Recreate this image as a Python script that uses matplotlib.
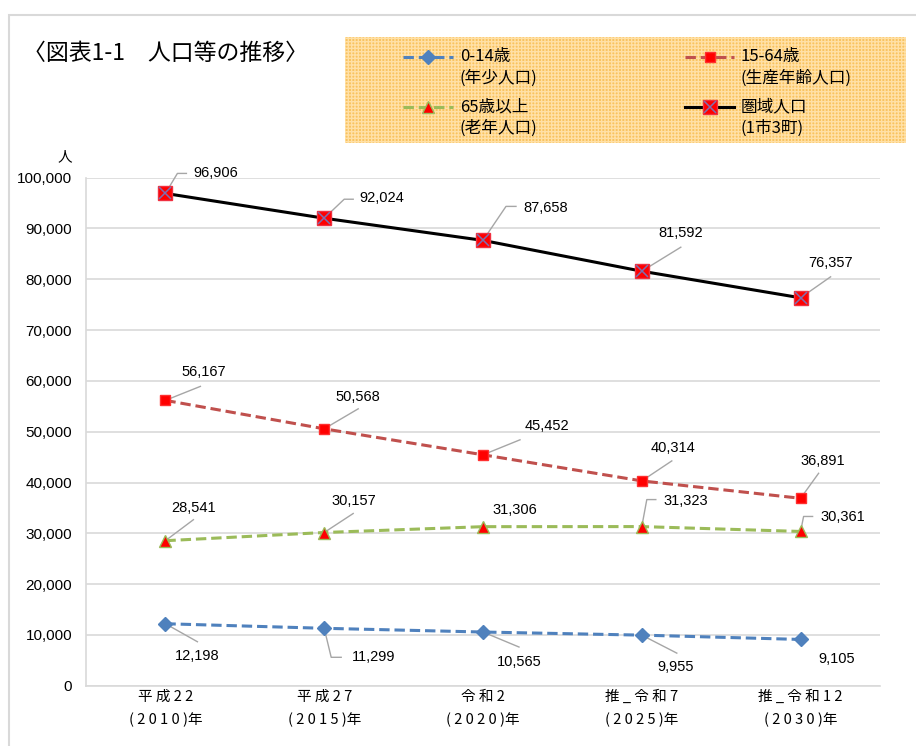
import numpy as np
import matplotlib
matplotlib.use('Agg')
import matplotlib.pyplot as plt
import matplotlib.transforms as mtransforms
from matplotlib.lines import Line2D
from matplotlib.patches import Rectangle
from matplotlib.ticker import FuncFormatter, MultipleLocator

plt.rcParams['font.family'] = ['Noto Sans CJK JP', 'DejaVu Sans']
plt.rcParams['hatch.linewidth'] = 1.0

# ---------------- data ----------------
cat_line1 = ['平成22', '平成27', '令和2', '推_令和7', '推_令和12']
cat_line2 = ['(2010)', '(2015)', '(2020)', '(2025)', '(2030)']
pop_0_14 = [12198, 11299, 10565, 9955, 9105]
pop_15_64 = [56167, 50568, 45452, 40314, 36891]
pop_65_over = [28541, 30157, 31306, 31323, 30361]
pop_total = [96906, 92024, 87658, 81592, 76357]

title = '〈図表1-1\u3000人口等の推移〉'
legend_labels = [('0-14歳', '(年少人口)'), ('15-64歳', '(生産年齢人口)'),
                 ('65歳以上', '(老年人口)'), ('圏域人口', '(1市3町)')]

# ---------------- layout helpers ----------------
W, H = 916, 746
def fx(p): return p / W
def fy(p): return 1 - p / H

fig = plt.figure(figsize=(W / 100, H / 100), dpi=100)
ax = fig.add_axes([fx(86), fy(685.7), (880 - 86) / W, (685.7 - 177.7) / H])

x = np.arange(len(cat_line1))
ax.set_xlim(-0.5, len(cat_line1) - 0.5)
ax.set_ylim(0, 100000)
ax.yaxis.set_major_locator(MultipleLocator(10000))
ax.yaxis.set_major_formatter(FuncFormatter(lambda v, p: f'{int(v):,}'))
ax.grid(axis='y', color='#D9D9D9', lw=1.2)
ax.set_axisbelow(True)
for s in ['top', 'right']:
    ax.spines[s].set_visible(False)
for s in ['left', 'bottom']:
    ax.spines[s].set_color('#D9D9D9')
    ax.spines[s].set_linewidth(1.2)
ax.tick_params(axis='y', length=0, pad=10, labelsize=11)
ax.tick_params(axis='x', length=0, pad=3)
for lab in ax.get_yticklabels():
    lab.set_fontfamily(['Liberation Sans', 'DejaVu Sans'])

def spaced(s):
    return ' '.join(list(s))
ax.set_xticks(x)
ax.set_xticklabels([spaced(a) + '\n' + spaced(b) + '年' for a, b in zip(cat_line1, cat_line2)],
                   fontsize=10.5, linespacing=1.7)

# ---------------- series ----------------
dash = (3.4, 1.6)
ax.plot(x, pop_0_14, color='#4F81BD', lw=2.2, dashes=dash, dash_capstyle='butt',
        marker='D', ms=7, mfc='#4F81BD', mec='#4F81BD', zorder=3)
ax.plot(x, pop_15_64, color='#C0504D', lw=2.2, dashes=dash, dash_capstyle='butt',
        marker='s', ms=7, mfc='#FF0000', mec='#FF3030', zorder=3)
ax.plot(x, pop_65_over, color='#9BBB59', lw=2.2, dashes=dash, dash_capstyle='butt',
        marker='^', ms=8.5, mfc='#FF0000', mec='#9BBB59', mew=1, zorder=3)
ax.plot(x, pop_total, color='black', lw=2.2, marker='s', ms=10,
        mfc='#FF0000', mec='#F03040', zorder=4)
ax.plot(x, pop_total, ls='none', marker='x', ms=9, mec='#7F6FB0', mew=1.1, zorder=5)

# ---------------- data labels (offsets in pixels, y down) ----------------
label_layout = {
    'total': [((50, -20), [(0, 0), (12, -20), (21, -20)]),
              ((58, -20), [(0, 0), (20, -19), (29, -19)]),
              ((63, -32), [(0, 0), (23, -34), (33, -34)]),
              ((39, -38), [(0, 0), (39, -24)]),
              ((30, -35), [(0, 0), (30, -21)])],
    'p15': [((38, -28), [(0, 0), (35, -14)]),
            ((34, -32), [(0, 0), (34, -20)]),
            ((64, -29), [(0, 0), (37, -15)]),
            ((31, -33), [(0, 0), (30, -20)]),
            ((22, -37), [(0, 0), (18, -25)])],
    'p65': [((28, -33), [(0, 0), (28, -21)]),
            ((30, -32), [(0, 0), (29, -19)]),
            ((32, -17), None),
            ((44, -26), [(0, 0), (5, -27), (14, -27)]),
            ((42, -14), [(0, 0), (3, -15), (12, -15)])],
    'p0': [((32, 32), [(0, 0), (32, 18)]),
           ((49, 29), [(0, 0), (7, 29), (17, 29)]),
           ((36, 30), [(0, 0), (36, 15)]),
           ((34, 32), [(0, 0), (35, 18)]),
           ((36, 20), None)],
}
series_map = {'total': pop_total, 'p15': pop_15_64, 'p65': pop_65_over, 'p0': pop_0_14}

def off_trans(xv, yv):
    return fig.dpi_scale_trans + mtransforms.ScaledTranslation(xv, yv, ax.transData)

for key, vals in series_map.items():
    for i, v in enumerate(vals):
        (tx, ty), leader = label_layout[key][i]
        tr = off_trans(x[i], v)
        ax.text(tx / 100, -ty / 100, f'{v:,}', transform=tr, ha='center', va='center',
                fontsize=10.5, family=['Liberation Sans', 'DejaVu Sans'], zorder=6)
        if leader:
            xs = [p[0] / 100 for p in leader]
            ys = [-p[1] / 100 for p in leader]
            ax.add_line(Line2D(xs, ys, transform=tr, color='#A6A6A6', lw=1,
                               zorder=2.5, clip_on=False))

# ---------------- texts ----------------
fig.text(fx(23), fy(53), title, fontsize=16.5, ha='left', va='center')
fig.text(fx(65), fy(157), '人', fontsize=10.5, ha='center', va='center')

# outer frame
fig.add_artist(Rectangle((fx(8.5), -0.1), 2, fy(14.5) + 0.1, transform=fig.transFigure,
                         fill=False, edgecolor='#D9D9D9', lw=1.5))

# ---------------- legend ----------------
fig.add_artist(Rectangle((fx(345), fy(143)), (906 - 345) / W, (143 - 37) / H,
                         transform=fig.transFigure, facecolor='#F9C35F',
                         edgecolor='#FFE0A6', lw=0, hatch='+' * 5, zorder=1))

def legend_sample(x0, x1, y, **kw):
    fig.add_artist(Line2D([fx(x0), fx(x1)], [fy(y), fy(y)], transform=fig.transFigure,
                          lw=2.2, zorder=3, dash_capstyle='butt', **kw))

def legend_marker(xm, y, **kw):
    fig.add_artist(Line2D([fx(xm)], [fy(y)], transform=fig.transFigure, ls='none',
                          zorder=4, **kw))

rows = [57, 107]
c1 = (403, 453, 460)
c2 = (685, 734, 741)
# 0-14
legend_sample(c1[0], c1[1], rows[0], color='#4F81BD', dashes=dash)
legend_marker((c1[0] + c1[1]) / 2, rows[0], marker='D', ms=7, mfc='#4F81BD', mec='#4F81BD')
# 15-64
legend_sample(c2[0], c2[1], rows[0], color='#C0504D', dashes=dash)
legend_marker((c2[0] + c2[1]) / 2, rows[0], marker='s', ms=7, mfc='#FF0000', mec='#FF3030')
# 65+
legend_sample(c1[0], c1[1], rows[1], color='#9BBB59', dashes=dash)
legend_marker((c1[0] + c1[1]) / 2, rows[1], marker='^', ms=8.5, mfc='#FF0000', mec='#9BBB59')
# total
legend_sample(c2[0], c2[1], rows[1], color='black')
legend_marker((c2[0] + c2[1]) / 2, rows[1], marker='s', ms=10, mfc='#FF0000', mec='#F03040')
legend_marker((c2[0] + c2[1]) / 2, rows[1], marker='x', ms=9, mec='#7F6FB0', mew=1.1)

positions = [(c1[2], rows[0]), (c2[2], rows[0]), (c1[2], rows[1]), (c2[2], rows[1])]
for (l1, l2), (tx, ty) in zip(legend_labels, positions):
    fig.text(fx(tx), fy(ty), l1, fontsize=12, ha='left', va='center', zorder=5)
    fig.text(fx(tx), fy(ty + 21), l2, fontsize=12, ha='left', va='center', zorder=5)

fig.savefig('out.png', dpi=100)
